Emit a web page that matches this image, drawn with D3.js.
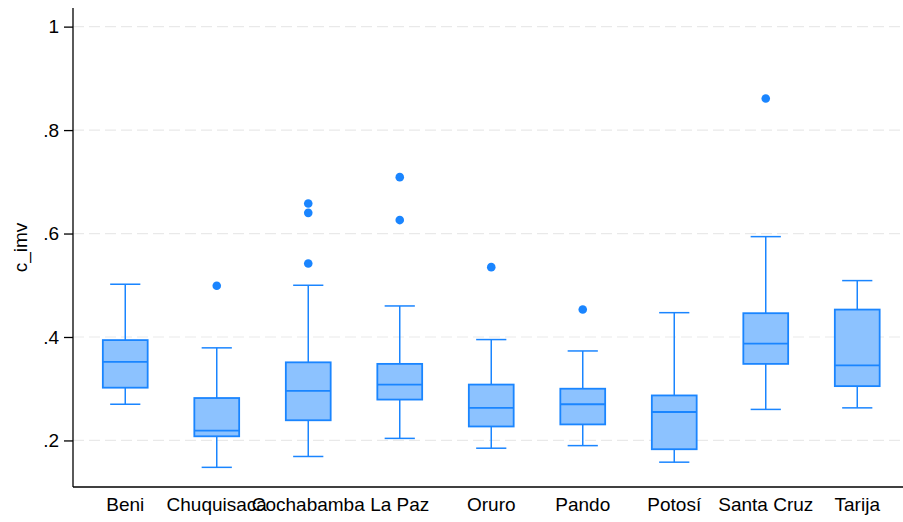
<!DOCTYPE html>
<html>
<head>
<meta charset="utf-8">
<script src="https://cdn.jsdelivr.net/npm/d3@7"></script>
<style>
  html, body { margin: 0; padding: 0; background: #ffffff; }
  svg { display: block; font-family: "Liberation Sans", Arial, sans-serif; }
</style>
</head>
<body>
<svg id="chart" width="903" height="522"></svg>
<script>
// Departments of Bolivia and the distribution of c_imv in each
const categories = ["Beni", "Chuquisaca", "Cochabamba", "La Paz", "Oruro", "Pando", "Potosí", "Santa Cruz", "Tarija"];
const whiskerLow  = [0.270, 0.148, 0.169, 0.204, 0.185, 0.190, 0.158, 0.260, 0.263];
const q1          = [0.302, 0.208, 0.239, 0.279, 0.227, 0.231, 0.183, 0.348, 0.305];
const median      = [0.352, 0.219, 0.296, 0.308, 0.263, 0.270, 0.255, 0.387, 0.345];
const q3          = [0.394, 0.282, 0.351, 0.348, 0.308, 0.300, 0.287, 0.446, 0.453];
const whiskerHigh = [0.502, 0.379, 0.500, 0.460, 0.395, 0.373, 0.447, 0.594, 0.509];
const outliers    = [[], [0.499], [0.542, 0.640, 0.658], [0.626, 0.709], [0.535], [0.453], [], [0.861], []];
const yTicks = [0.2, 0.4, 0.6, 0.8, 1];
const yTitle = "c_imv";

const lineColor = "#1a85ff";
const fillColor = "#8cc2ff";

const svg = d3.select("#chart");
const plot = { left: 73, right: 903, top: 8, bottom: 487 };

const x = d3.scaleBand().domain(categories).range([79.5, 903]).padding(0);
const y = d3.scaleLinear().domain([0.110, 1.036]).range([plot.bottom, plot.top]);

// dashed horizontal gridlines
svg.append("g")
  .selectAll("line")
  .data(yTicks)
  .join("line")
  .attr("x1", plot.left).attr("x2", plot.right)
  .attr("y1", d => y(d)).attr("y2", d => y(d))
  .attr("stroke", "#e9e9e9")
  .attr("stroke-width", 1.2)
  .attr("stroke-dasharray", "11,5");

const fmt = d => d === 1 ? "1" : d3.format(".1f")(d).replace(/^0/, "");

// y axis
const yAxis = svg.append("g")
  .attr("transform", `translate(${plot.left},0)`)
  .call(d3.axisLeft(y).tickValues(yTicks).tickFormat(fmt).tickSize(9).tickPadding(5));
yAxis.select(".domain").attr("d", `M0,${plot.top}V${plot.bottom}`).attr("stroke", "#000").attr("stroke-width", 1.3);
yAxis.selectAll(".tick line").attr("stroke", "#000").attr("stroke-width", 1.3);
yAxis.selectAll(".tick text").attr("font-size", 19).attr("fill", "#000")
  .style("font-family", "'Liberation Sans', Arial, sans-serif");

// x axis (labels only, no ticks)
const xAxis = svg.append("g")
  .attr("transform", `translate(0,${plot.bottom})`)
  .call(d3.axisBottom(x).tickSize(0).tickPadding(11));
xAxis.select(".domain").attr("d", `M${plot.left},0H${plot.right}`).attr("stroke", "#000").attr("stroke-width", 1.5);
xAxis.selectAll(".tick text").attr("font-size", 19).attr("fill", "#000")
  .style("font-family", "'Liberation Sans', Arial, sans-serif");

// y axis title
svg.append("text")
  .attr("transform", `translate(27,${(plot.top + plot.bottom) / 2}) rotate(-90)`)
  .attr("text-anchor", "middle")
  .attr("font-size", 19)
  .attr("fill", "#000")
  .text(yTitle);

// boxes
const boxW = x.bandwidth() * 0.49;
const capW = x.bandwidth() * 0.33;
const rows = categories.map((c, i) => ({
  c, lo: whiskerLow[i], q1: q1[i], med: median[i], q3: q3[i], hi: whiskerHigh[i], out: outliers[i]
}));

const g = svg.append("g")
  .selectAll("g")
  .data(rows)
  .join("g")
  .attr("transform", d => `translate(${x(d.c) + x.bandwidth() / 2},0)`);

// whisker stems
g.append("line")
  .attr("x1", 0).attr("x2", 0)
  .attr("y1", d => y(d.hi)).attr("y2", d => y(d.q3))
  .attr("stroke", lineColor).attr("stroke-width", 1.5);
g.append("line")
  .attr("x1", 0).attr("x2", 0)
  .attr("y1", d => y(d.q1)).attr("y2", d => y(d.lo))
  .attr("stroke", lineColor).attr("stroke-width", 1.5);
// caps
g.append("line")
  .attr("x1", -capW / 2).attr("x2", capW / 2)
  .attr("y1", d => y(d.hi)).attr("y2", d => y(d.hi))
  .attr("stroke", lineColor).attr("stroke-width", 1.5);
g.append("line")
  .attr("x1", -capW / 2).attr("x2", capW / 2)
  .attr("y1", d => y(d.lo)).attr("y2", d => y(d.lo))
  .attr("stroke", lineColor).attr("stroke-width", 1.5);
// box
g.append("rect")
  .attr("x", -boxW / 2).attr("width", boxW)
  .attr("y", d => y(d.q3)).attr("height", d => y(d.q1) - y(d.q3))
  .attr("fill", fillColor).attr("stroke", lineColor).attr("stroke-width", 1.8);
// median
g.append("line")
  .attr("x1", -boxW / 2).attr("x2", boxW / 2)
  .attr("y1", d => y(d.med)).attr("y2", d => y(d.med))
  .attr("stroke", lineColor).attr("stroke-width", 1.8);
// outside values
g.selectAll("circle")
  .data(d => d.out)
  .join("circle")
  .attr("cx", 0).attr("cy", d => y(d)).attr("r", 4.3)
  .attr("fill", lineColor);
</script>
</body>
</html>
